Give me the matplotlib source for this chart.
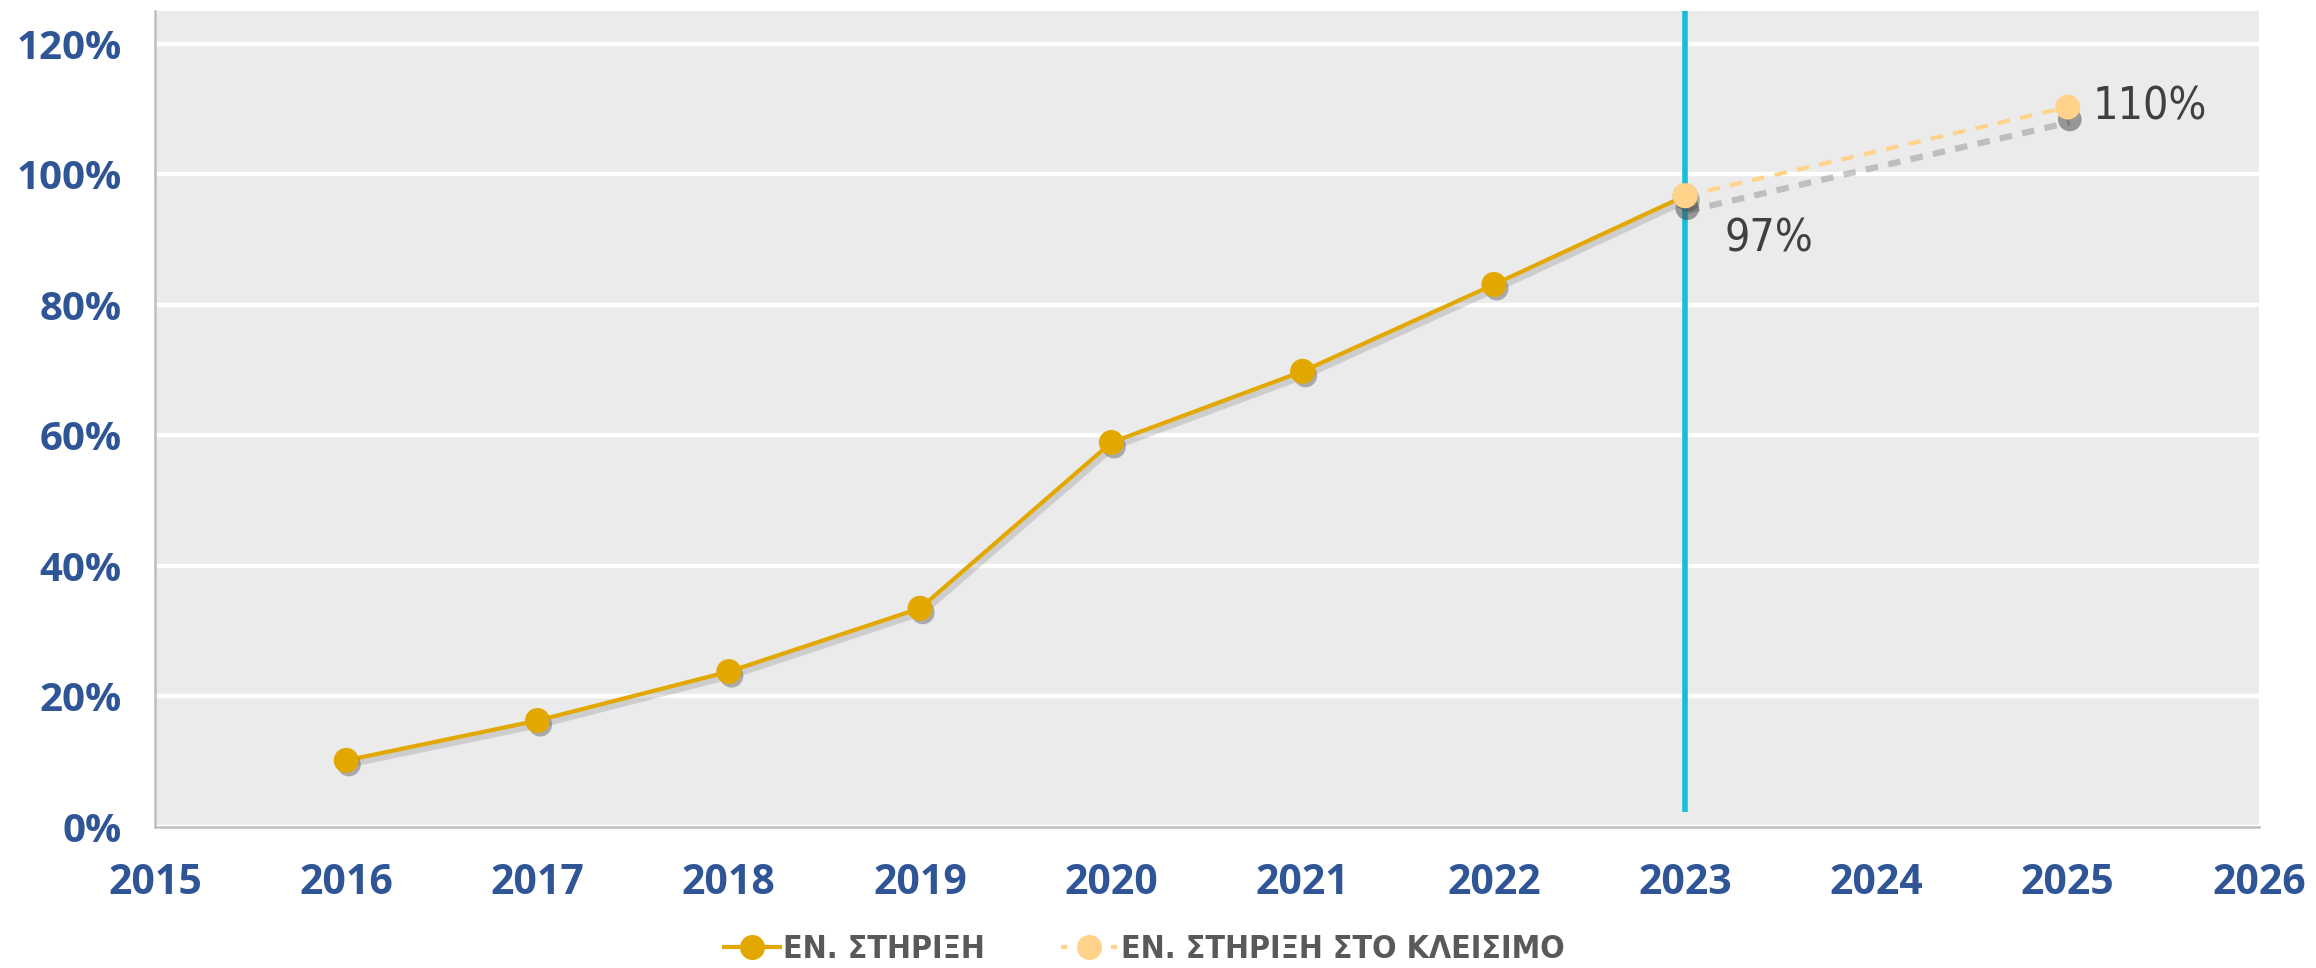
import matplotlib
matplotlib.use("Agg")
import matplotlib.pyplot as plt
import matplotlib.patheffects as pe
from matplotlib.ticker import FuncFormatter, MultipleLocator
from matplotlib import font_manager as fm
from matplotlib.lines import Line2D

# ---- data ----
years = [2016, 2017, 2018, 2019, 2020, 2021, 2022, 2023]
support = [10.2, 16.3, 23.8, 33.5, 58.9, 69.8, 83.1, 96.7]
closing_years = [2023, 2025]
closing_support = [96.7, 110.3]
label_values = ["97%", "110%"]
series_names = ["ΕΝ. ΣΤΗΡΙΞΗ", "ΕΝ. ΣΤΗΡΙΞΗ ΣΤΟ ΚΛΕΙΣΙΜΟ"]
divider_year = 2023
divider_ymin = 2.3
x_range = (2015, 2026)
y_range = (0, 125)
y_ticks = [0, 20, 40, 60, 80, 100, 120]

GOLD = "#E3A800"
LIGHT = "#FFD38A"
CYAN = "#17BDD9"
BLUE = "#2F5597"
BG = "#EBEBEB"
GREY_TXT = "#595959"

TICK_FONT = ["Open Sans", "DejaVu Sans"]


def find_condensed(bold):
    prefs = ["Liberation Sans Narrow", "DejaVu Sans Condensed", "Roboto Condensed",
             "Open Sans Condensed", "Noto Sans Condensed", "Arial Narrow"]
    cands = []
    for f in fm.fontManager.ttflist:
        nm = f.name
        stretch = str(f.stretch).lower()
        path = f.fname.lower()
        is_cond = ("narrow" in nm.lower() or "condensed" in nm.lower() or
                   "condensed" in stretch or "narrow" in path or "condensed" in path)
        if not is_cond:
            continue
        if f.style != "normal":
            continue
        w = f.weight if isinstance(f.weight, int) else (700 if "bold" in str(f.weight) else 400)
        want = 700 if bold else 400
        if "semi" in path or "extra" in path or "ultra" in path:
            continue
        score = abs(w - want)
        rank = len(prefs)
        for i, p in enumerate(prefs):
            if p.lower().split()[0] in nm.lower() or p.lower().replace(" ", "") in path.replace("-", "").replace("_", ""):
                rank = min(rank, i)
        cands.append((rank, score, f.fname))
    if cands:
        cands.sort()
        return fm.FontProperties(fname=cands[0][2])
    return fm.FontProperties(family=["Liberation Sans", "DejaVu Sans"],
                             weight="bold" if bold else "normal")


fp_label = find_condensed(False)
fp_legend = find_condensed(True)

fig = plt.figure(figsize=(23.16, 9.68), dpi=100)
ax = fig.add_axes([0.0669, 0.1457, 0.9085, 0.8429])
ax.set_facecolor(BG)

ax.set_xlim(*x_range)
ax.set_ylim(*y_range)
ax.set_yticks(y_ticks)
ax.xaxis.set_major_locator(MultipleLocator(1))
ax.yaxis.set_major_formatter(FuncFormatter(lambda v, p: f"{int(v)}%"))
ax.xaxis.set_major_formatter(FuncFormatter(lambda v, p: f"{int(v)}"))

ax.grid(axis="y", color="white", linewidth=3.2)
ax.set_axisbelow(True)
for s in ["top", "right"]:
    ax.spines[s].set_visible(False)
for s in ["left", "bottom"]:
    ax.spines[s].set_color("#BFBFBF")
    ax.spines[s].set_linewidth(1.8)

ax.tick_params(axis="both", length=0)
ax.tick_params(axis="y", pad=24)
ax.tick_params(axis="x", pad=26)
for lab in ax.get_yticklabels():
    lab.set_fontfamily(TICK_FONT)
    lab.set_fontweight("bold")
    lab.set_fontsize(29)
    lab.set_color(BLUE)
for lab in ax.get_xticklabels():
    lab.set_fontfamily(TICK_FONT)
    lab.set_fontweight("bold")
    lab.set_fontsize(29.5)
    lab.set_color(BLUE)

# divider line
ax.vlines(divider_year, divider_ymin, y_range[1], color=CYAN, linewidth=4, zorder=2)

# main series: line with soft shadow
ax.plot(years, support, color=GOLD, linewidth=3, zorder=3,
        path_effects=[pe.SimpleLineShadow(offset=(2, -3), shadow_color="#666666", alpha=0.22,
                                          linewidth=4.5),
                      pe.Normal()])
ax.plot(years, support, linestyle="none", marker="o", markersize=17,
        markerfacecolor=GOLD, markeredgecolor=GOLD, zorder=4,
        path_effects=[pe.SimplePatchShadow(offset=(2, -3), shadow_rgbFace="#333333", alpha=0.35),
                      pe.Normal()])

# closing series: dashed line with shadow
ax.plot(closing_years, closing_support, color=LIGHT, linewidth=3, linestyle=(0, (3, 2.5)),
        zorder=3,
        path_effects=[pe.SimpleLineShadow(offset=(1.5, -11), shadow_color="#888888", alpha=0.45,
                                          linewidth=4.5),
                      pe.Normal()])
ax.plot(closing_years, closing_support, linestyle="none", marker="o", markersize=17,
        markerfacecolor=LIGHT, markeredgecolor=LIGHT, zorder=5,
        path_effects=[pe.SimplePatchShadow(offset=(1.5, -9), shadow_rgbFace="#444444", alpha=0.5),
                      pe.Normal()])

# data labels
ax.annotate(label_values[0], (closing_years[0], closing_support[0]), xytext=(28, -31),
            textcoords="offset points", ha="left", va="center",
            fontproperties=fp_label, fontsize=32, color="#404040", zorder=6)
ax.annotate(label_values[1], (closing_years[1], closing_support[1]), xytext=(18, 0),
            textcoords="offset points", ha="left", va="center",
            fontproperties=fp_label, fontsize=32, color="#404040", zorder=6)

# legend
h1 = Line2D([], [], color=GOLD, linewidth=3, marker="o", markersize=17,
            markerfacecolor=GOLD, markeredgecolor=GOLD)
h2 = Line2D([], [], color=LIGHT, linewidth=3, linestyle=(0, (1.5, 2.5)), marker="o",
            markersize=17, markerfacecolor=LIGHT, markeredgecolor=LIGHT)
leg_prop = fp_legend.copy()
leg_prop.set_size(23)
leg = fig.legend([h1, h2], series_names, loc="center", bbox_to_anchor=(0.494, 0.019),
                 ncol=2, frameon=False, handlelength=1.75, handletextpad=0.1,
                 columnspacing=2.4, prop=leg_prop)
for t in leg.get_texts():
    t.set_color(GREY_TXT)

fig.savefig("out.png", dpi=100)
